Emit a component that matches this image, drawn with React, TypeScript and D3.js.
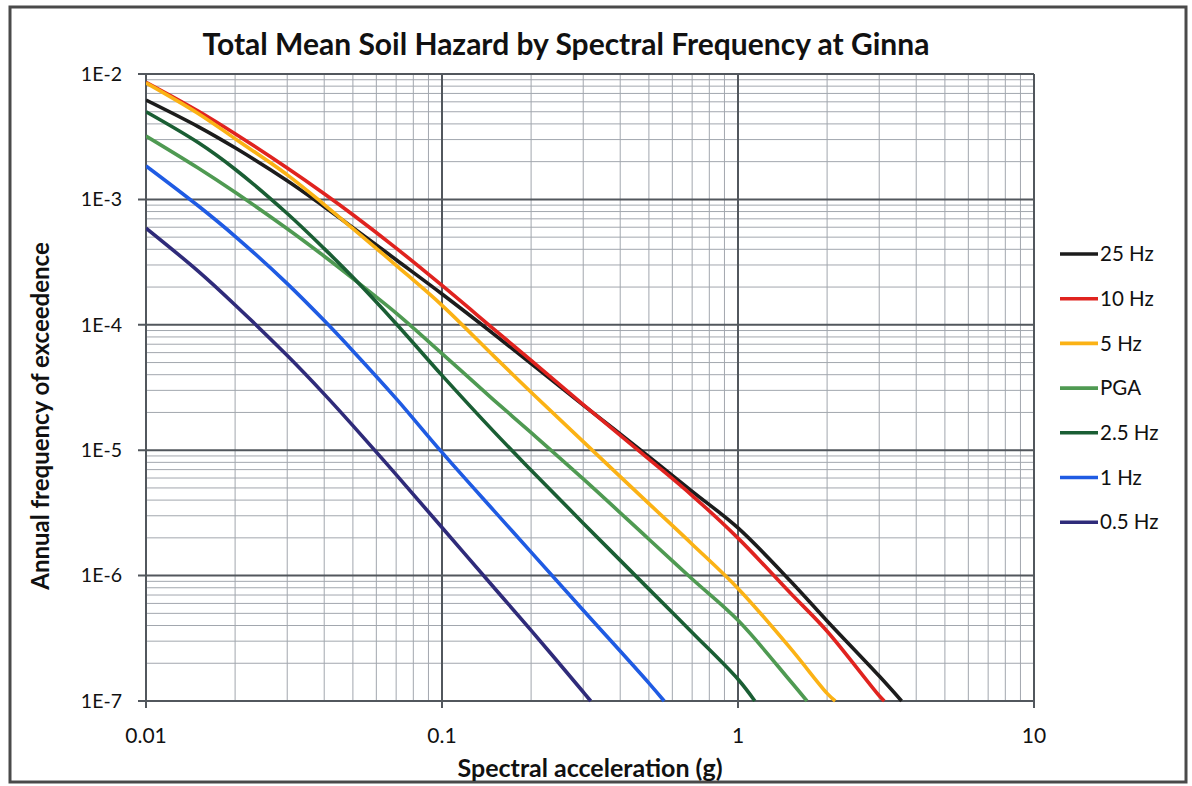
import React from "react";
import * as d3 from "d3";

const seriesNames = ["25 Hz", "10 Hz", "5 Hz", "PGA", "2.5 Hz", "1 Hz", "0.5 Hz"];
const seriesColors = ["#1c1c1c", "#e0231f", "#fbb215", "#4f9a52", "#1a5e34", "#1f5be3", "#2f2b7a"];

const hz25X = [0.01, 0.015, 0.02, 0.03, 0.04, 0.05, 0.07, 0.1, 0.15, 0.2, 0.3, 0.5, 0.7, 1, 1.5, 2, 3, 3.57];
const hz25Y = [6.2e-3, 3.81e-3, 2.58e-3, 1.41e-3, 8.75e-4, 5.96e-4, 3.3e-4, 1.76e-4, 8.4e-5, 4.9e-5, 2.29e-5, 8.9e-6, 4.7e-6, 2.4e-6, 9.1e-7, 4.35e-7, 1.58e-7, 1e-7];

const hz10X = [0.01, 0.015, 0.02, 0.03, 0.04, 0.05, 0.07, 0.1, 0.15, 0.2, 0.3, 0.5, 0.7, 1, 1.5, 2, 3, 3.12];
const hz10Y = [8.6e-3, 5.07e-3, 3.34e-3, 1.78e-3, 1.11e-3, 7.55e-4, 4.09e-4, 2.06e-4, 9.2e-5, 5.2e-5, 2.31e-5, 8.5e-6, 4.35e-6, 1.99e-6, 7.3e-7, 3.6e-7, 1.1e-7, 1e-7];

const hz5X = [0.01, 0.015, 0.02, 0.03, 0.04, 0.05, 0.07, 0.1, 0.15, 0.2, 0.3, 0.5, 0.7, 1, 1.5, 2, 2.13];
const hz5Y = [8.5e-3, 4.85e-3, 3.05e-3, 1.57e-3, 9.1e-4, 5.85e-4, 2.98e-4, 1.43e-4, 5.6e-5, 2.9e-5, 1.17e-5, 3.75e-6, 1.78e-6, 7.9e-7, 2.65e-7, 1.15e-7, 1e-7];

const pgaX = [0.01, 0.015, 0.02, 0.03, 0.04, 0.05, 0.07, 0.1, 0.15, 0.2, 0.3, 0.5, 0.7, 1, 1.5, 1.71];
const pgaY = [3.2e-3, 1.78e-3, 1.14e-3, 5.83e-4, 3.52e-4, 2.34e-4, 1.24e-4, 5.9e-5, 2.5e-5, 1.38e-5, 5.9e-6, 1.95e-6, 9.4e-7, 4.4e-7, 1.45e-7, 1e-7];

const hz2p5X = [0.01, 0.015, 0.02, 0.03, 0.04, 0.05, 0.07, 0.1, 0.15, 0.2, 0.3, 0.5, 0.7, 1, 1.14];
const hz2p5Y = [5.0e-3, 2.84e-3, 1.74e-3, 7.72e-4, 4.05e-4, 2.39e-4, 1.02e-4, 3.95e-5, 1.4e-5, 6.93e-6, 2.62e-6, 7.8e-7, 3.52e-7, 1.49e-7, 1e-7];

const hz1X = [0.01, 0.015, 0.02, 0.03, 0.04, 0.05, 0.07, 0.1, 0.15, 0.2, 0.3, 0.5, 0.563];
const hz1Y = [1.85e-3, 8.9e-4, 5.08e-4, 2.13e-4, 1.08e-4, 6.19e-5, 2.58e-5, 9.6e-6, 3.28e-6, 1.54e-6, 5.3e-7, 1.39e-7, 1e-7];

const hz05X = [0.01, 0.015, 0.02, 0.03, 0.04, 0.05, 0.07, 0.1, 0.15, 0.2, 0.3, 0.318];
const hz05Y = [5.9e-4, 2.68e-4, 1.44e-4, 5.68e-5, 2.8e-5, 1.57e-5, 6.38e-6, 2.42e-6, 8.0e-7, 3.66e-7, 1.18e-7, 1e-7];

const seriesX = [hz25X, hz10X, hz5X, pgaX, hz2p5X, hz1X, hz05X];
const seriesY = [hz25Y, hz10Y, hz5Y, pgaY, hz2p5Y, hz1Y, hz05Y];

const xTicks = [0.01, 0.1, 1, 10];
const xTickLabels = ["0.01", "0.1", "1", "10"];
const yTicks = [1e-2, 1e-3, 1e-4, 1e-5, 1e-6, 1e-7];
const yTickLabels = ["1E-2", "1E-3", "1E-4", "1E-5", "1E-6", "1E-7"];

const title = "Total Mean Soil Hazard by Spectral Frequency at Ginna";
const xTitle = "Spectral acceleration (g)";
const yTitle = "Annual frequency of exceedence";

export default function App() {
  const W = 1192, H = 786;
  const L = 146, R = 1034, T = 74, B = 701;
  const x = d3.scaleLog().domain([0.01, 10]).range([L, R]);
  const y = d3.scaleLog().domain([1e-7, 1e-2]).range([B, T]);
  const font = "Lato, 'Open Sans', sans-serif";

  const minorX: number[] = [];
  for (let e = -2; e < 1; e++) for (let k = 2; k <= 9; k++) minorX.push(k * Math.pow(10, e));
  const minorY: number[] = [];
  for (let e = -7; e < -2; e++) for (let k = 2; k <= 9; k++) minorY.push(k * Math.pow(10, e));

  const line = d3
    .line<[number, number]>()
    .x((d) => x(d[0]))
    .y((d) => y(d[1]))
    .curve(d3.curveCatmullRom.alpha(0.5));

  return (
    <svg width={W} height={H} style={{ position: "absolute", left: 0, top: 0, background: "#fff" }}>
      <rect x={0} y={0} width={W} height={H} fill="#fff" />
      <rect x={10} y={7} width={1176} height={775} fill="none" stroke="#4a4a4a" strokeWidth={3} />
      <defs>
        <clipPath id="plotclip">
          <rect x={L} y={T - 2} width={R - L} height={B - T + 4} />
        </clipPath>
      </defs>
      {minorX.map((v, i) => (
        <line key={"mx" + i} x1={x(v)} x2={x(v)} y1={T} y2={B} stroke="#a2a7ae" strokeWidth={1} />
      ))}
      {minorY.map((v, i) => (
        <line key={"my" + i} x1={L} x2={R} y1={y(v)} y2={y(v)} stroke="#a2a7ae" strokeWidth={1} />
      ))}
      {xTicks.map((v, i) => (
        <line key={"Mx" + i} x1={x(v)} x2={x(v)} y1={T} y2={B + 7} stroke="#52575d" strokeWidth={2} />
      ))}
      {yTicks.map((v, i) => (
        <line key={"My" + i} x1={L - 8} x2={R} y1={y(v)} y2={y(v)} stroke="#52575d" strokeWidth={2} />
      ))}
      <g clipPath="url(#plotclip)">
        {seriesNames.map((n, i) => (
          <path
            key={n}
            d={line(seriesX[i].map((v, j) => [v, seriesY[i][j]] as [number, number])) || ""}
            fill="none"
            stroke={seriesColors[i]}
            strokeWidth={3.6}
            strokeLinejoin="round"
          />
        ))}
      </g>
      {yTicks.map((v, i) => (
        <text key={"yl" + i} x={122} y={y(v)} dy="0.35em" textAnchor="end" fontFamily={font} fontSize={19.5} fill="#111">
          {yTickLabels[i]}
        </text>
      ))}
      {xTicks.map((v, i) => (
        <text key={"xl" + i} x={x(v)} y={743} textAnchor="middle" fontFamily={font} fontSize={21} fill="#111">
          {xTickLabels[i]}
        </text>
      ))}
      <text x={566} y={55} textAnchor="middle" fontFamily={font} fontWeight="bold" fontSize={30} fill="#111">
        {title}
      </text>
      <text x={590} y={777} textAnchor="middle" fontFamily={font} fontWeight="bold" fontSize={25} fill="#111">
        {xTitle}
      </text>
      <text
        transform="translate(49,416) rotate(-90)"
        textAnchor="middle"
        fontFamily={font}
        fontWeight="bold"
        fontSize={24}
        fill="#111"
      >
        {yTitle}
      </text>
      {seriesNames.map((n, i) => {
        const ly = 254 + i * 44.7;
        return (
          <g key={"lg" + n}>
            <line x1={1060} x2={1098} y1={ly} y2={ly} stroke={seriesColors[i]} strokeWidth={3.6} />
            <text x={1100} y={ly} dy="0.35em" fontFamily={font} fontSize={20.5} fill="#111">
              {n}
            </text>
          </g>
        );
      })}
    </svg>
  );
}
